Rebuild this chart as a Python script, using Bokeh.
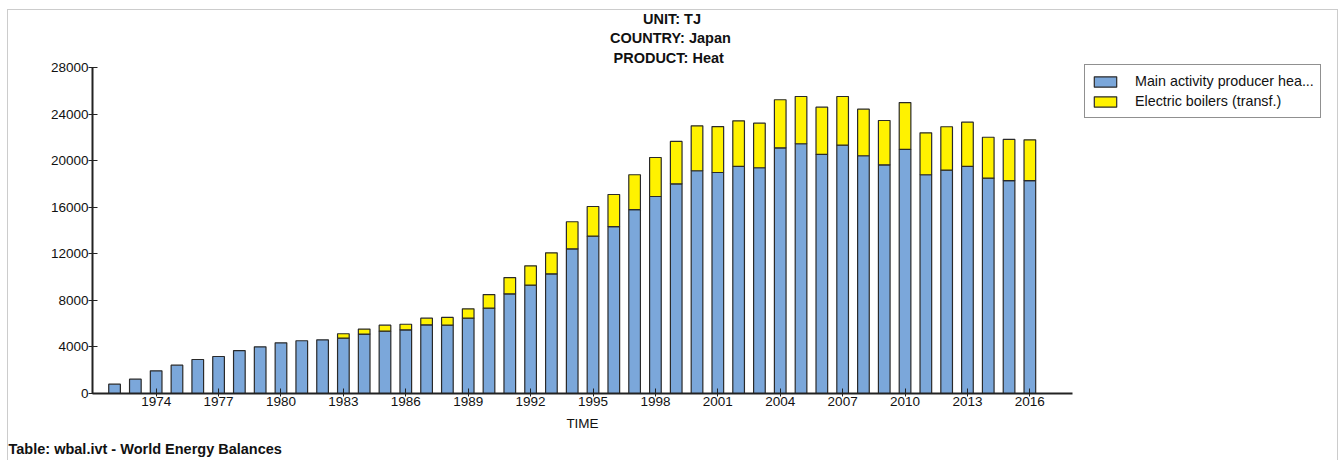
from bokeh.plotting import figure
from bokeh.models import ColumnDataSource, Legend, LegendItem, Title, FixedTicker, Range1d
from bokeh.embed import file_html
from bokeh.resources import INLINE

years = list(range(1972, 2017))
main_activity = [800, 1230, 1950, 2430, 2920, 3180, 3690, 4010, 4350, 4530, 4610,
                 4750, 5100, 5350, 5470, 5900, 5870, 6470, 7330, 8560, 9300, 10280, 12430, 13510,
                 14340, 15800, 16920, 18010, 19130, 18980, 19500, 19390, 21100, 21450,
                 20530, 21330, 20420, 19640, 20960, 18790, 19180, 19500, 18490, 18290, 18290]
electric_boilers = [0, 0, 0, 0, 0, 0, 0, 0, 0, 0, 0,
                    380, 430, 520, 480, 570, 660, 800, 1170, 1400, 1670, 1800, 2320, 2550,
                    2750, 2990, 3350, 3640, 3860, 3950, 3920, 3830, 4130, 4060,
                    4060, 4180, 4000, 3810, 4030, 3600, 3730, 3800, 3520, 3530, 3500]
series_names = ["Main activity producer hea...", "Electric boilers (transf.)"]
y_ticks = [0, 4000, 8000, 12000, 16000, 20000, 24000, 28000]
x_ticks = list(range(1974, 2017, 3))
title_lines = ["UNIT: TJ", "COUNTRY: Japan", "PRODUCT: Heat"]
footer = "Table: wbal.ivt - World Energy Balances"

FONT = "Liberation Sans"
BLUE = "#7BA7DA"
YELLOW = "#FFF200"
TXT = "#111111"
EDGE = "#2a2a2a"

p = figure(frame_width=980, frame_height=326, output_backend="svg", toolbar_location=None,
           x_range=Range1d(1970.94, 2018.05), y_range=Range1d(0, 28000),
           min_border_left=92, min_border_right=266, min_border_top=67, min_border_bottom=67)
p.border_fill_color = None
p.background_fill_color = "white"
p.outline_line_color = None
p.styles = {
    "background-color": "white",
    "background-image": "linear-gradient(#cccccc,#cccccc), linear-gradient(#cccccc,#cccccc), linear-gradient(#cccccc,#cccccc)",
    "background-size": "1330px 1px, 1px 460px, 1px 460px",
    "background-position": "7px 9px, 7px 9px, 1337px 9px",
    "background-repeat": "no-repeat",
}
p.xgrid.visible = False
p.ygrid.visible = False

src_main = ColumnDataSource(dict(x=years, top=main_activity, bottom=[0] * len(years)))
ey = [y for y, e in zip(years, electric_boilers) if e > 0]
eb = [m for m, e in zip(main_activity, electric_boilers) if e > 0]
et = [m + e for m, e in zip(main_activity, electric_boilers) if e > 0]
src_el = ColumnDataSource(dict(x=ey, top=et, bottom=eb))

r1 = p.vbar(x="x", top="top", bottom="bottom", width=0.56, source=src_main,
            fill_color=BLUE, line_color=EDGE, line_width=1.2)
r2 = p.vbar(x="x", top="top", bottom="bottom", width=0.56, source=src_el,
            fill_color=YELLOW, line_color=EDGE, line_width=1.2)

for ax in (p.xaxis[0], p.yaxis[0]):
    ax.axis_line_color = "#222222"
    ax.axis_line_width = 2
    ax.major_tick_line_color = "#222222"
    ax.major_tick_line_width = 1
    ax.minor_tick_line_color = None
    ax.major_label_text_font = FONT
    ax.major_label_text_font_size = "13.5px"
    ax.major_label_text_color = TXT

p.yaxis.ticker = FixedTicker(ticks=y_ticks)
p.yaxis.major_tick_in = 5
p.yaxis.major_tick_out = 4
p.yaxis.major_label_standoff = 0

p.xaxis.ticker = FixedTicker(ticks=x_ticks)
p.xaxis.major_tick_in = 5
p.xaxis.major_tick_out = 3
p.xaxis.major_label_standoff = 0
p.xaxis.axis_label = "TIME"
p.xaxis.axis_label_text_font = FONT
p.xaxis.axis_label_text_font_size = "13.5px"
p.xaxis.axis_label_text_font_style = "normal"
p.xaxis.axis_label_text_color = TXT
p.xaxis.axis_label_standoff = 7

legend = Legend(items=[LegendItem(label=series_names[0], renderers=[r1]),
                       LegendItem(label=series_names[1], renderers=[r2])],
                location=(12, 275), orientation="vertical")
legend.border_line_color = "#222222"
legend.border_line_width = 1
legend.background_fill_color = "white"
legend.padding = 6
legend.spacing = 0
legend.margin = 0
legend.glyph_width = 28
legend.glyph_height = 13
legend.label_height = 20
legend.label_standoff = 16
legend.label_text_font = FONT
legend.label_text_font_size = "14.3px"
legend.label_text_color = TXT
p.add_layout(legend, "right")

# title lines, nearest to the plot first
title_widths = [55, 121, 114]
for i, (t, w) in enumerate(reversed(list(zip(title_lines, title_widths)))):
    p.add_layout(Title(text=t, align="left", offset=670 - w / 2 - 92, standoff=3 if i == 0 else 1,
                       text_font=FONT, text_font_size="14.5px", text_font_style="bold",
                       text_color=TXT), "above")

p.add_layout(Title(text=footer, align="left", offset=-84, standoff=10,
                   text_font=FONT, text_font_size="14.5px", text_font_style="bold",
                   text_color=TXT), "below")

open("out.html", "w").write(file_html(p, INLINE))
